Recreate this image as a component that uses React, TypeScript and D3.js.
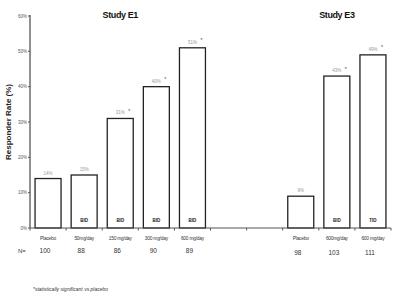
import React from 'react';
import * as d3 from 'd3';

// slots along the x axis: E1 (5), two empty gap slots, E3 (3)
const slots = ['e1p', 'e1_50', 'e1_150', 'e1_300', 'e1_600', 'gap1', 'gap2', 'e3p', 'e3_bid', 'e3_tid'];
const barSlots = ['e1p', 'e1_50', 'e1_150', 'e1_300', 'e1_600', 'e3p', 'e3_bid', 'e3_tid'];
const categoryLabels = ['Placebo', '50mg/day', '150 mg/day', '300 mg/day', '600 mg/day', 'Placebo', '600mg/day', '600 mg/day'];
const rates = [14, 15, 31, 40, 51, 9, 43, 49];
const significant = [false, false, true, true, true, false, true, true];
const dosing = ['', 'BID', 'BID', 'BID', 'BID', '', 'BID', 'TID'];
const nValues = [100, 88, 86, 90, 89, 98, 103, 111];
const yTicks = [0, 10, 20, 30, 40, 50, 60];
const studies = [
  { name: 'Study E1', from: 'e1p', to: 'e1_600' },
  { name: 'Study E3', from: 'e3p', to: 'e3_tid' },
];

const W = 400;
const H = 298;
const left = 30;
const right = 391;
const top = 16;
const bottom = 228;

const font = '"Liberation Sans", Arial, sans-serif';

const App = () => {
  const x = d3.scaleBand<string>().domain(slots).range([left, right]).padding(0);
  const y = d3.scaleLinear().domain([0, 60]).range([bottom, top]);
  const bw = x.bandwidth();
  const barW = bw * 0.72;
  const tickX = slots.map(s => x(s) as number).concat([right]);

  return (
    <svg width={W} height={H} style={{ position: 'absolute', left: 0, top: 0, background: '#fff', fontFamily: font }}>
      {/* titles */}
      {studies.map(s => {
        const cx = ((x(s.from) as number) + (x(s.to) as number) + bw) / 2;
        return (
          <text key={s.name} x={cx} y={18} textAnchor="middle" fontSize={9} fontWeight="bold" fill="#111" letterSpacing={-0.4}>
            {s.name}
          </text>
        );
      })}

      {/* y axis label */}
      <text transform={`translate(11,${(top + bottom) / 2}) rotate(-90)`} textAnchor="middle" fontSize={8} fontWeight="bold" fill="#222">
        Responder Rate (%)
      </text>

      {/* bars */}
      {barSlots.map((s, i) => {
        const bx = (x(s) as number) + (bw - barW) / 2;
        const by = y(rates[i]);
        const cx = bx + barW / 2;
        return (
          <g key={s}>
            <rect x={bx} y={by} width={barW} height={bottom - by} fill="#fff" stroke="#222" strokeWidth={1.3} />
            <text x={cx} y={by - 4} textAnchor="middle" fontSize={4.5} fill="#999">
              {rates[i]}%
            </text>
            {significant[i] && (
              <text x={cx + 9} y={by - 5.5} textAnchor="middle" fontSize={5} fill="#333">
                *
              </text>
            )}
            {dosing[i] && (
              <text x={cx} y={bottom - 6} textAnchor="middle" fontSize={4.5} fontWeight="bold" fill="#222">
                {dosing[i]}
              </text>
            )}
            <text x={cx} y={240} textAnchor="middle" fontSize={4.8} fill="#333" letterSpacing={-0.2}>
              {categoryLabels[i]}
            </text>
            <text x={cx - 3} y={i < 5 ? 253 : 255} textAnchor="middle" fontSize={6.5} fill="#333">
              {nValues[i]}
            </text>
          </g>
        );
      })}

      {/* y axis */}
      <line x1={left} x2={left} y1={top - 1} y2={bottom} stroke="#555" strokeWidth={1.3} />
      {yTicks.map(t => (
        <g key={t}>
          <line x1={left - 2} x2={left} y1={y(t)} y2={y(t)} stroke="#555" strokeWidth={1} />
          <text x={left - 3} y={y(t) + 1.6} textAnchor="end" fontSize={4.5} fill="#555">
            {t}%
          </text>
        </g>
      ))}

      {/* x axis */}
      <line x1={left} x2={right} y1={bottom} y2={bottom} stroke="#555" strokeWidth={1.2} />
      {tickX.map((tx, i) => (
        <line key={i} x1={tx} x2={tx} y1={bottom} y2={bottom + 2.5} stroke="#555" strokeWidth={1} />
      ))}

      <text x={18} y={253} fontSize={6} fill="#333">
        N=
      </text>

      <text x={33} y={291} fontSize={5} fontStyle="italic" fill="#333">
        *statistically significant vs.placebo
      </text>
    </svg>
  );
};

export default App;
